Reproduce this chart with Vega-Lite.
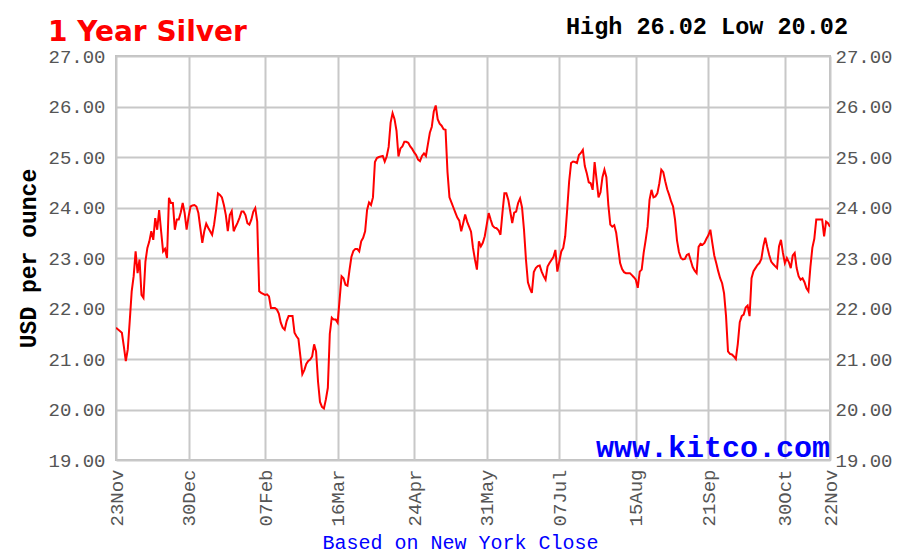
{
"$schema": "https://vega.github.io/schema/vega-lite/v6.json",
"width": 714, "height": 404,
"autosize": {"type": "none"},
"padding": {"left": 116, "top": 56, "right": 69, "bottom": 94},
"background": "white",
"title": {"text": "1 Year Silver", "anchor": "start", "frame": "group", "font": "DejaVu Sans", "fontSize": 28, "fontWeight": "bold", "color": "#ff0000", "dx": -68, "dy": 36},
"data": {"format": {"parse": {"date": "utc:'%Y-%m-%d'"}}, "values": [
{"date":"2022-11-23","price":21.62},{"date":"2022-11-26","price":21.52},{"date":"2022-11-27","price":21.25},{"date":"2022-11-28","price":20.96},{"date":"2022-11-29","price":21.19},{"date":"2022-11-30","price":21.75},
{"date":"2022-12-01","price":22.34},{"date":"2022-12-02","price":22.64},{"date":"2022-12-03","price":23.13},{"date":"2022-12-04","price":22.70},{"date":"2022-12-05","price":22.97},{"date":"2022-12-06","price":22.27},{"date":"2022-12-07","price":22.21},{"date":"2022-12-08","price":22.93},{"date":"2022-12-09","price":23.20},{"date":"2022-12-10","price":23.33},{"date":"2022-12-11","price":23.53},{"date":"2022-12-12","price":23.36},{"date":"2022-12-13","price":23.79},{"date":"2022-12-14","price":23.56},{"date":"2022-12-15","price":23.95},{"date":"2022-12-16","price":23.53},{"date":"2022-12-17","price":23.13},{"date":"2022-12-18","price":23.18},{"date":"2022-12-19","price":23.00},{"date":"2022-12-20","price":24.19},{"date":"2022-12-21","price":24.09},{"date":"2022-12-22","price":24.09},{"date":"2022-12-23","price":23.56},{"date":"2022-12-24","price":23.76},{"date":"2022-12-25","price":23.76},{"date":"2022-12-26","price":23.90},{"date":"2022-12-27","price":24.09},{"date":"2022-12-28","price":23.89},{"date":"2022-12-29","price":23.56},{"date":"2022-12-30","price":23.82},{"date":"2022-12-31","price":24.02},
{"date":"2023-01-01","price":24.04},{"date":"2023-01-02","price":24.05},{"date":"2023-01-03","price":24.02},{"date":"2023-01-04","price":23.89},{"date":"2023-01-05","price":23.59},{"date":"2023-01-06","price":23.30},{"date":"2023-01-07","price":23.53},{"date":"2023-01-08","price":23.68},{"date":"2023-01-09","price":23.60},{"date":"2023-01-10","price":23.53},{"date":"2023-01-11","price":23.46},{"date":"2023-01-12","price":23.66},{"date":"2023-01-13","price":23.95},{"date":"2023-01-14","price":24.28},{"date":"2023-01-15","price":24.25},{"date":"2023-01-16","price":24.20},{"date":"2023-01-17","price":24.05},{"date":"2023-01-18","price":23.85},{"date":"2023-01-19","price":23.53},{"date":"2023-01-20","price":23.85},{"date":"2023-01-21","price":23.93},{"date":"2023-01-22","price":23.53},{"date":"2023-01-23","price":23.62},{"date":"2023-01-24","price":23.70},{"date":"2023-01-25","price":23.80},{"date":"2023-01-26","price":23.92},{"date":"2023-01-27","price":23.92},{"date":"2023-01-28","price":23.85},{"date":"2023-01-29","price":23.69},{"date":"2023-01-30","price":23.66},{"date":"2023-01-31","price":23.76},
{"date":"2023-02-01","price":23.92},{"date":"2023-02-02","price":23.99},{"date":"2023-02-03","price":23.72},{"date":"2023-02-04","price":22.34},{"date":"2023-02-05","price":22.31},{"date":"2023-02-06","price":22.29},{"date":"2023-02-07","price":22.27},{"date":"2023-02-08","price":22.28},{"date":"2023-02-09","price":22.24},{"date":"2023-02-10","price":22.01},{"date":"2023-02-11","price":22.01},{"date":"2023-02-12","price":22.01},{"date":"2023-02-13","price":21.98},{"date":"2023-02-14","price":21.90},{"date":"2023-02-15","price":21.72},{"date":"2023-02-16","price":21.62},{"date":"2023-02-17","price":21.58},{"date":"2023-02-18","price":21.75},{"date":"2023-02-19","price":21.85},{"date":"2023-02-20","price":21.85},{"date":"2023-02-21","price":21.85},{"date":"2023-02-22","price":21.52},{"date":"2023-02-23","price":21.45},{"date":"2023-02-24","price":21.40},{"date":"2023-02-25","price":21.05},{"date":"2023-02-26","price":20.70},{"date":"2023-02-27","price":20.78},{"date":"2023-02-28","price":20.90},
{"date":"2023-03-01","price":20.96},{"date":"2023-03-02","price":20.99},{"date":"2023-03-03","price":21.05},{"date":"2023-03-04","price":21.29},{"date":"2023-03-05","price":21.15},{"date":"2023-03-06","price":20.55},{"date":"2023-03-07","price":20.15},{"date":"2023-03-08","price":20.05},{"date":"2023-03-09","price":20.02},{"date":"2023-03-10","price":20.20},{"date":"2023-03-11","price":20.43},{"date":"2023-03-12","price":21.50},{"date":"2023-03-13","price":21.82},{"date":"2023-03-14","price":21.78},{"date":"2023-03-15","price":21.78},{"date":"2023-03-16","price":21.72},{"date":"2023-03-17","price":22.18},{"date":"2023-03-18","price":22.64},{"date":"2023-03-19","price":22.60},{"date":"2023-03-20","price":22.47},{"date":"2023-03-21","price":22.45},{"date":"2023-03-22","price":22.75},{"date":"2023-03-23","price":23.02},{"date":"2023-03-24","price":23.14},{"date":"2023-03-25","price":23.18},{"date":"2023-03-26","price":23.18},{"date":"2023-03-27","price":23.13},{"date":"2023-03-28","price":23.33},{"date":"2023-03-29","price":23.40},{"date":"2023-03-30","price":23.53},{"date":"2023-03-31","price":23.95},
{"date":"2023-04-01","price":24.10},{"date":"2023-04-02","price":24.05},{"date":"2023-04-03","price":24.20},{"date":"2023-04-04","price":24.90},{"date":"2023-04-05","price":24.98},{"date":"2023-04-06","price":25.00},{"date":"2023-04-07","price":25.01},{"date":"2023-04-08","price":25.02},{"date":"2023-04-09","price":24.91},{"date":"2023-04-10","price":25.01},{"date":"2023-04-11","price":25.20},{"date":"2023-04-12","price":25.68},{"date":"2023-04-13","price":25.87},{"date":"2023-04-14","price":25.75},{"date":"2023-04-15","price":25.52},{"date":"2023-04-16","price":25.01},{"date":"2023-04-17","price":25.17},{"date":"2023-04-18","price":25.21},{"date":"2023-04-19","price":25.30},{"date":"2023-04-20","price":25.30},{"date":"2023-04-21","price":25.28},{"date":"2023-04-22","price":25.21},{"date":"2023-04-23","price":25.16},{"date":"2023-04-24","price":25.09},{"date":"2023-04-25","price":25.04},{"date":"2023-04-26","price":24.95},{"date":"2023-04-27","price":24.92},{"date":"2023-04-28","price":25.02},{"date":"2023-04-29","price":25.07},{"date":"2023-04-30","price":25.02},
{"date":"2023-05-01","price":25.25},{"date":"2023-05-02","price":25.48},{"date":"2023-05-03","price":25.60},{"date":"2023-05-04","price":25.90},{"date":"2023-05-05","price":26.02},{"date":"2023-05-06","price":25.75},{"date":"2023-05-07","price":25.66},{"date":"2023-05-08","price":25.62},{"date":"2023-05-09","price":25.55},{"date":"2023-05-10","price":25.54},{"date":"2023-05-11","price":24.70},{"date":"2023-05-12","price":24.20},{"date":"2023-05-13","price":24.10},{"date":"2023-05-14","price":24.00},{"date":"2023-05-15","price":23.90},{"date":"2023-05-16","price":23.80},{"date":"2023-05-17","price":23.74},{"date":"2023-05-18","price":23.53},{"date":"2023-05-19","price":23.69},{"date":"2023-05-20","price":23.86},{"date":"2023-05-21","price":23.72},{"date":"2023-05-22","price":23.62},{"date":"2023-05-23","price":23.52},{"date":"2023-05-24","price":23.20},{"date":"2023-05-25","price":22.97},{"date":"2023-05-26","price":22.77},{"date":"2023-05-27","price":23.33},{"date":"2023-05-28","price":23.23},{"date":"2023-05-29","price":23.30},{"date":"2023-05-30","price":23.43},{"date":"2023-05-31","price":23.66},
{"date":"2023-06-01","price":23.89},{"date":"2023-06-02","price":23.76},{"date":"2023-06-03","price":23.64},{"date":"2023-06-04","price":23.60},{"date":"2023-06-05","price":23.59},{"date":"2023-06-06","price":23.55},{"date":"2023-06-07","price":23.46},{"date":"2023-06-08","price":23.89},{"date":"2023-06-09","price":24.28},{"date":"2023-06-10","price":24.28},{"date":"2023-06-11","price":24.15},{"date":"2023-06-12","price":23.92},{"date":"2023-06-13","price":23.69},{"date":"2023-06-14","price":23.90},{"date":"2023-06-15","price":23.92},{"date":"2023-06-16","price":24.09},{"date":"2023-06-17","price":24.18},{"date":"2023-06-18","price":24.00},{"date":"2023-06-19","price":23.56},{"date":"2023-06-20","price":22.97},{"date":"2023-06-21","price":22.52},{"date":"2023-06-22","price":22.40},{"date":"2023-06-23","price":22.31},{"date":"2023-06-24","price":22.72},{"date":"2023-06-25","price":22.80},{"date":"2023-06-26","price":22.84},{"date":"2023-06-27","price":22.85},{"date":"2023-06-28","price":22.73},{"date":"2023-06-29","price":22.64},{"date":"2023-06-30","price":22.57},
{"date":"2023-07-01","price":22.83},{"date":"2023-07-02","price":22.90},{"date":"2023-07-03","price":22.96},{"date":"2023-07-04","price":23.02},{"date":"2023-07-05","price":23.16},{"date":"2023-07-06","price":22.73},{"date":"2023-07-07","price":22.93},{"date":"2023-07-08","price":23.13},{"date":"2023-07-09","price":23.20},{"date":"2023-07-10","price":23.43},{"date":"2023-07-11","price":23.95},{"date":"2023-07-12","price":24.51},{"date":"2023-07-13","price":24.88},{"date":"2023-07-14","price":24.91},{"date":"2023-07-15","price":24.90},{"date":"2023-07-16","price":24.88},{"date":"2023-07-17","price":25.04},{"date":"2023-07-18","price":25.08},{"date":"2023-07-19","price":25.14},{"date":"2023-07-20","price":24.82},{"date":"2023-07-21","price":24.68},{"date":"2023-07-22","price":24.50},{"date":"2023-07-23","price":24.48},{"date":"2023-07-24","price":24.35},{"date":"2023-07-25","price":24.90},{"date":"2023-07-26","price":24.55},{"date":"2023-07-27","price":24.20},{"date":"2023-07-28","price":24.30},{"date":"2023-07-29","price":24.60},{"date":"2023-07-30","price":24.75},{"date":"2023-07-31","price":24.60},
{"date":"2023-08-01","price":24.05},{"date":"2023-08-02","price":23.66},{"date":"2023-08-03","price":23.62},{"date":"2023-08-04","price":23.65},{"date":"2023-08-05","price":23.50},{"date":"2023-08-06","price":23.20},{"date":"2023-08-07","price":22.90},{"date":"2023-08-08","price":22.78},{"date":"2023-08-09","price":22.72},{"date":"2023-08-10","price":22.70},{"date":"2023-08-11","price":22.70},{"date":"2023-08-12","price":22.70},{"date":"2023-08-13","price":22.66},{"date":"2023-08-14","price":22.62},{"date":"2023-08-15","price":22.57},{"date":"2023-08-16","price":22.41},{"date":"2023-08-17","price":22.73},{"date":"2023-08-18","price":22.77},{"date":"2023-08-19","price":23.10},{"date":"2023-08-20","price":23.35},{"date":"2023-08-21","price":23.62},{"date":"2023-08-22","price":24.15},{"date":"2023-08-23","price":24.35},{"date":"2023-08-24","price":24.20},{"date":"2023-08-25","price":24.22},{"date":"2023-08-26","price":24.28},{"date":"2023-08-27","price":24.48},{"date":"2023-08-28","price":24.75},{"date":"2023-08-29","price":24.70},{"date":"2023-08-30","price":24.52},{"date":"2023-08-31","price":24.36},
{"date":"2023-09-01","price":24.25},{"date":"2023-09-02","price":24.12},{"date":"2023-09-03","price":24.02},{"date":"2023-09-04","price":23.76},{"date":"2023-09-05","price":23.35},{"date":"2023-09-06","price":23.12},{"date":"2023-09-07","price":23.00},{"date":"2023-09-08","price":22.97},{"date":"2023-09-09","price":22.98},{"date":"2023-09-10","price":23.06},{"date":"2023-09-11","price":23.08},{"date":"2023-09-12","price":22.95},{"date":"2023-09-13","price":22.82},{"date":"2023-09-14","price":22.75},{"date":"2023-09-15","price":22.70},{"date":"2023-09-16","price":23.22},{"date":"2023-09-17","price":23.28},{"date":"2023-09-18","price":23.26},{"date":"2023-09-19","price":23.30},{"date":"2023-09-20","price":23.38},{"date":"2023-09-21","price":23.45},{"date":"2023-09-22","price":23.56},{"date":"2023-09-23","price":23.30},{"date":"2023-09-24","price":23.05},{"date":"2023-09-25","price":22.90},{"date":"2023-09-26","price":22.74},{"date":"2023-09-27","price":22.60},{"date":"2023-09-28","price":22.50},{"date":"2023-09-29","price":22.30},{"date":"2023-09-30","price":21.85},
{"date":"2023-10-01","price":21.15},{"date":"2023-10-02","price":21.10},{"date":"2023-10-03","price":21.09},{"date":"2023-10-04","price":21.05},{"date":"2023-10-05","price":21.00},{"date":"2023-10-06","price":21.30},{"date":"2023-10-07","price":21.73},{"date":"2023-10-08","price":21.85},{"date":"2023-10-09","price":21.88},{"date":"2023-10-10","price":22.02},{"date":"2023-10-11","price":22.06},{"date":"2023-10-12","price":21.85},{"date":"2023-10-13","price":22.60},{"date":"2023-10-14","price":22.74},{"date":"2023-10-15","price":22.80},{"date":"2023-10-16","price":22.86},{"date":"2023-10-17","price":22.90},{"date":"2023-10-18","price":22.98},{"date":"2023-10-19","price":23.23},{"date":"2023-10-20","price":23.40},{"date":"2023-10-21","price":23.22},{"date":"2023-10-22","price":23.06},{"date":"2023-10-23","price":22.93},{"date":"2023-10-24","price":22.88},{"date":"2023-10-25","price":22.84},{"date":"2023-10-26","price":22.80},{"date":"2023-10-27","price":23.23},{"date":"2023-10-28","price":23.36},{"date":"2023-10-29","price":23.10},{"date":"2023-10-30","price":22.90},{"date":"2023-10-31","price":23.00},
{"date":"2023-11-01","price":22.92},{"date":"2023-11-02","price":22.80},{"date":"2023-11-03","price":23.05},{"date":"2023-11-04","price":23.10},{"date":"2023-11-05","price":22.80},{"date":"2023-11-06","price":22.64},{"date":"2023-11-07","price":22.57},{"date":"2023-11-08","price":22.60},{"date":"2023-11-09","price":22.52},{"date":"2023-11-10","price":22.40},{"date":"2023-11-11","price":22.34},{"date":"2023-11-12","price":22.82},{"date":"2023-11-13","price":23.20},{"date":"2023-11-14","price":23.38},{"date":"2023-11-15","price":23.76},{"date":"2023-11-16","price":23.76},{"date":"2023-11-17","price":23.76},{"date":"2023-11-18","price":23.76},{"date":"2023-11-19","price":23.43},{"date":"2023-11-20","price":23.72},{"date":"2023-11-21","price":23.69},{"date":"2023-11-22","price":23.62}
]},
"layer": [
{"mark": {"type": "line", "color": "#ff0000", "strokeWidth": 2, "clip": true},
 "encoding": {
  "x": {"field": "date", "type": "temporal",
   "scale": {"type": "utc", "domain": [{"year": 2022, "month": 11, "date": 23, "utc": true}, {"year": 2023, "month": 11, "date": 22, "utc": true}]},
   "axis": {"values": [{"year": 2022, "month": 11, "date": 23, "utc": true}, {"year": 2022, "month": 12, "date": 30, "utc": true}, {"year": 2023, "month": 2, "date": 7, "utc": true}, {"year": 2023, "month": 3, "date": 16, "utc": true}, {"year": 2023, "month": 4, "date": 24, "utc": true}, {"year": 2023, "month": 5, "date": 31, "utc": true}, {"year": 2023, "month": 7, "date": 7, "utc": true}, {"year": 2023, "month": 8, "date": 15, "utc": true}, {"year": 2023, "month": 9, "date": 21, "utc": true}, {"year": 2023, "month": 10, "date": 30, "utc": true}, {"year": 2023, "month": 11, "date": 22, "utc": true}],
    "labelExpr": "utcFormat(datum.value, '%d%b')", "labelAngle": -90, "labelOverlap": false, "labelBound": false, "labelFlush": false,
    "labelFont": "Liberation Mono", "labelFontSize": 19, "labelColor": "#555555", "labelPadding": 9,
    "ticks": false, "domain": false, "grid": true, "gridColor": "#c8c8c8", "gridWidth": 2,
    "title": "Based on New York Close", "titleFont": "Liberation Mono", "titleFontSize": 20, "titleFontWeight": "normal", "titleColor": "#0000ff", "titleX": 344, "titleY": 82, "titleAlign": "center", "titleBaseline": "middle"}},
  "y": {"field": "price", "type": "quantitative",
   "scale": {"domain": [19, 27], "nice": false, "zero": false},
   "axis": {"orient": "left", "values": [19, 20, 21, 22, 23, 24, 25, 26, 27], "format": ".2f",
    "labelFont": "Liberation Mono", "labelFontSize": 19, "labelColor": "#555555", "labelPadding": 11,
    "ticks": false, "domain": false, "grid": true, "gridColor": "#c8c8c8", "gridWidth": 2,
    "title": "USD per ounce", "titleFont": "Liberation Mono", "titleFontSize": 23, "titleFontWeight": "bold", "titleColor": "#000000", "titlePadding": 7}}
 }},
{"mark": {"type": "line", "color": "#ff0000", "strokeOpacity": 0},
 "encoding": {
  "x": {"field": "date", "type": "temporal"},
  "y": {"field": "price", "type": "quantitative",
   "axis": {"orient": "right", "values": [19, 20, 21, 22, 23, 24, 25, 26, 27], "format": ".2f",
    "labelFont": "Liberation Mono", "labelFontSize": 19, "labelColor": "#555555", "labelPadding": 5,
    "ticks": false, "domain": false, "grid": false, "title": null}}
 }},
{"data": {"values": [{"label": "www.kitco.com"}]},
 "mark": {"type": "text", "font": "Liberation Mono", "fontSize": 30, "fontWeight": "bold", "color": "#0000ff", "align": "right", "baseline": "alphabetic", "dy": -3},
 "encoding": {
  "text": {"field": "label"},
  "x": {"datum": {"year": 2023, "month": 11, "date": 22, "utc": true}, "type": "temporal"},
  "y": {"datum": 19, "type": "quantitative", "axis": null}
 }},
{"data": {"values": [{"label": "High 26.02 Low 20.02"}]},
 "mark": {"type": "text", "font": "Liberation Mono", "fontSize": 23.5, "fontWeight": "bold", "color": "#000000", "align": "right", "baseline": "alphabetic", "dx": 18, "dy": -22},
 "encoding": {
  "text": {"field": "label"},
  "x": {"datum": {"year": 2023, "month": 11, "date": 22, "utc": true}, "type": "temporal"},
  "y": {"datum": 27, "type": "quantitative", "axis": null}
 }}
],
"resolve": {"axis": {"y": "independent"}},
"config": {"view": {"stroke": "#c0c0c0", "strokeWidth": 2}}
}
